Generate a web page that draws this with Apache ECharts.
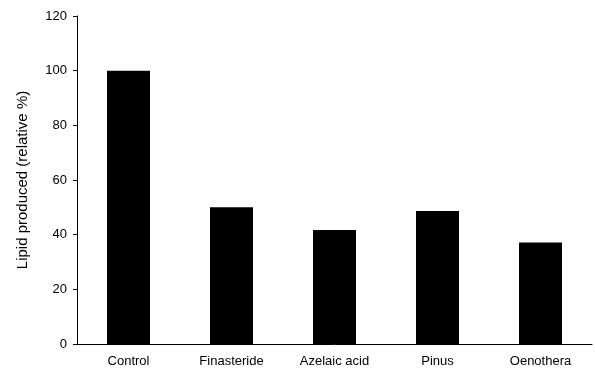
<!DOCTYPE html>
<html><head><meta charset="utf-8">
<script src="https://cdn.jsdelivr.net/npm/echarts@6/dist/echarts.min.js"></script>
<style>html,body{margin:0;padding:0;background:#fff}#c{width:595px;height:371px}</style>
</head><body><div id="c"></div>
<script>
const categories = ["Control", "Finasteride", "Azelaic acid", "Pinus", "Oenothera"];
const lipidValues = [100, 50, 41.7, 48.7, 37.1];
const yTicks = {min: 0, max: 120, interval: 20};

const chart = echarts.init(document.getElementById('c'), null, {renderer: 'canvas'});
const font = 'Liberation Sans, Arial, sans-serif';
chart.setOption({
  animation: false,
  grid: {left: 77, right: 3, top: 16, bottom: 27, containLabel: false},
  xAxis: {
    type: 'category', data: categories, boundaryGap: true,
    axisLine: {lineStyle: {color: '#000', width: 1}},
    axisTick: {alignWithLabel: true, length: 4, lineStyle: {color: '#000'}},
    axisLabel: {color: '#000', fontFamily: font, fontSize: 13, margin: 11}
  },
  yAxis: {
    type: 'value', min: yTicks.min, max: yTicks.max, interval: yTicks.interval,
    name: 'Lipid produced (relative %)', nameLocation: 'middle', nameGap: 47,
    nameTextStyle: {color: '#000', fontFamily: font, fontSize: 15},
    axisLine: {show: true, lineStyle: {color: '#000', width: 1}},
    axisTick: {show: true, length: 4, lineStyle: {color: '#000'}},
    axisLabel: {color: '#000', fontFamily: font, fontSize: 13, margin: 10},
    splitLine: {show: false}
  },
  series: [{
    type: 'bar', data: lipidValues, barWidth: 43,
    itemStyle: {color: '#000'}
  }]
});
</script></body></html>
